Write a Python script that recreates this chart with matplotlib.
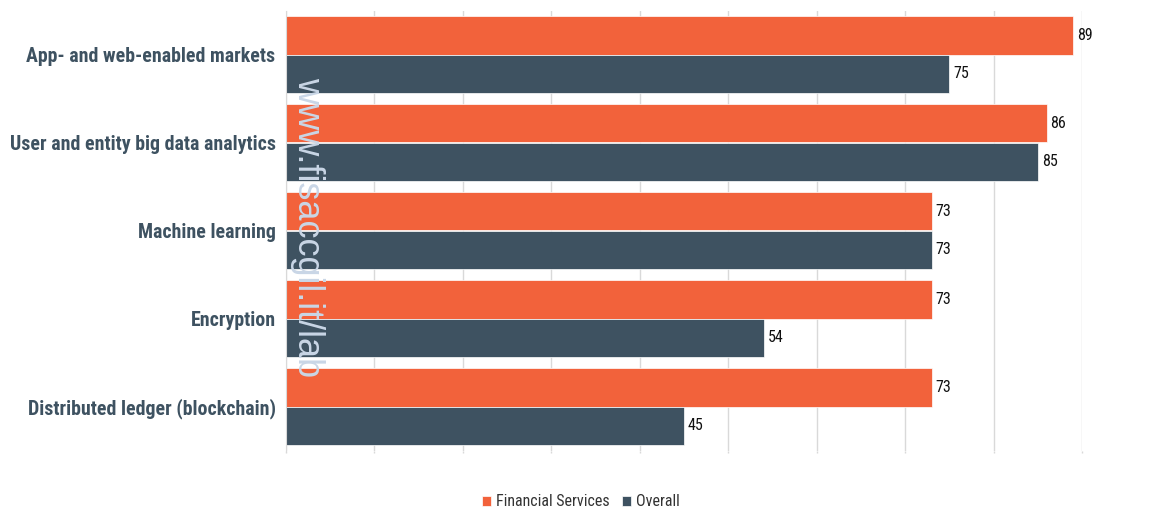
import matplotlib.pyplot as plt
import numpy as np

# data
categories = ["App- and web-enabled markets", "User and entity big data analytics",
              "Machine learning", "Encryption", "Distributed ledger (blockchain)"]
financial = [89, 86, 73, 73, 73]
overall = [75, 85, 73, 54, 45]
series_names = ["Financial Services", "Overall"]

ORANGE = "#F2623B"
SLATE = "#3E5261"
NARROW = "Roboto Condensed"

fig = plt.figure(figsize=(11.63, 5.09), dpi=100)
ax = fig.add_axes([286 / 1163, 1 - 450.5 / 509, (1082 - 286) / 1163, 440 / 509])

y = np.arange(len(categories))
h = 0.443
b1 = ax.barh(y - h / 2, financial, height=h, color=ORANGE, label=series_names[0],
             edgecolor="white", linewidth=0.5)
b2 = ax.barh(y + h / 2, overall, height=h, color=SLATE, label=series_names[1],
             edgecolor="white", linewidth=0.5)

for bars, vals in ((b1, financial), (b2, overall)):
    for bar, v in zip(bars, vals):
        ax.text(bar.get_width() + 0.45, bar.get_y() + bar.get_height() / 2, str(v),
                va="center", ha="left", fontsize=11.5, color="#111111", family=NARROW)

ax.set_xlim(0, 90)
ax.set_ylim(len(categories) - 0.5, -0.5)
ax.set_xticks(np.arange(0, 91, 10))
ax.set_xticklabels([])
ax.xaxis.grid(True, color="#D9D9D9", linewidth=1)
ax.set_axisbelow(True)
ax.tick_params(axis="x", length=1.5, color="#D9D9D9", width=1)
ax.tick_params(axis="y", length=0, pad=7.5)
ax.set_yticks(y)
ax.set_yticklabels(categories, fontsize=14.3, fontweight="bold", color=SLATE, family=NARROW)
for s in ("top", "right", "bottom"):
    ax.spines[s].set_visible(False)
ax.spines["left"].set_color("#D9D9D9")

fig.legend(handles=[b1, b2], labels=series_names, loc="center",
           bbox_to_anchor=(581 / 1163, 1 - 502 / 509), ncol=2, frameon=False,
           handlelength=0.55, handleheight=0.55, handletextpad=0.3,
           columnspacing=0.8, labelcolor="#333333",
           prop={"family": NARROW, "size": 11.5})

# watermark
fig.text(308 / 1163, 1 - 227 / 509, "www.fisaccgil.it/lab", rotation=-90,
         ha="center", va="center", fontsize=26, color="#C9D6E6",
         family="Liberation Sans")

fig.savefig("out.png", dpi=100)
